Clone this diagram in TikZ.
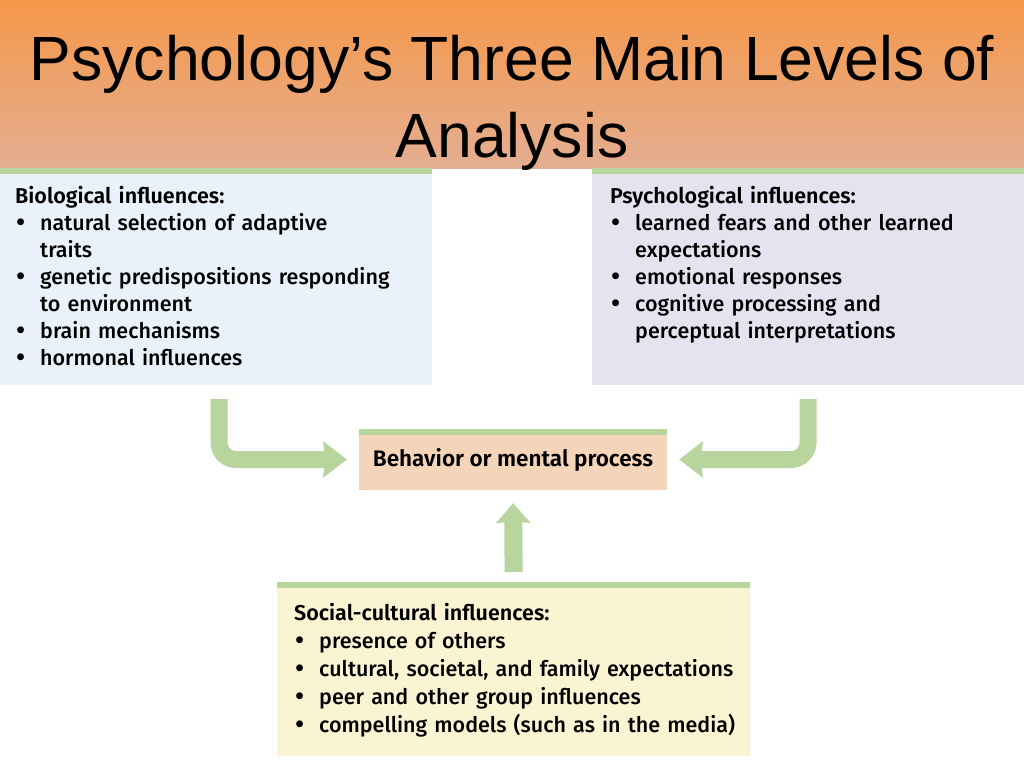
\documentclass[tikz,border=0pt]{standalone}
\usepackage{fontspec}
\usetikzlibrary{positioning,arrows.meta}
\newfontfamily\titlefont{Liberation Sans}
\newfontfamily\boxfont{Fira Sans Medium}
\newfontfamily\headfont{Fira Sans SemiBold}
\definecolor{bandtop}{RGB}{245,152,74}
\definecolor{bandbot}{RGB}{228,174,146}
\definecolor{leafgreen}{RGB}{183,213,156}
\definecolor{biofill}{RGB}{233,242,250}
\definecolor{psyfill}{RGB}{230,227,240}
\definecolor{behfill}{RGB}{245,213,185}
\definecolor{socfill}{RGB}{251,244,211}
\newcommand{\bul}{\par\noindent\hangindent=25pt\hangafter=1\makebox[25pt][l]{\hspace{1pt}\raisebox{-1pt}{\fontsize{27}{27}\selectfont\textbullet}}}
\begin{document}
\begin{tikzpicture}[x=1pt, y=-1pt, box node/.style={rectangle, inner sep=0pt, anchor=north west},
list node/.style={anchor=north west, inner sep=0pt, align=left, text width=#1, font=\boxfont\fontsize{21.5}{27}\selectfont},
flow/.style={line width=17pt, draw=leafgreen, rounded corners=17pt, shorten >=12pt, -{Stealth[length=24pt, width=37pt, inset=3pt, line width=0pt]}},
upflow/.style={line width=18pt, draw=leafgreen, shorten <=10pt, shorten >=13pt, -{Stealth[length=20pt, width=35pt, inset=2pt, line width=0pt]}}]
\useasboundingbox (0,0) rectangle (1024,768);
\fill[white] (0,0) rectangle (1024,768);
\shade[top color=bandtop, bottom color=bandbot] (0,0) rectangle (1024,168);
\node[font=\titlefont\fontsize{62.5}{77}\selectfont, align=center, inner sep=0pt, anchor=north] (title) at (512,35) {Psychology’s Three Main Levels of\\Analysis};
\begin{scope}
\node[box node, fill=biofill, minimum width=432pt, minimum height=217pt] (bio) at (0,168) {};
\node[box node, fill=psyfill, minimum width=432pt, minimum height=217pt] (psy) at (592,168) {};
\node[box node, fill=socfill, minimum width=473pt, minimum height=174pt] (soc) at (277,582) {};
\node[box node, fill=behfill, minimum width=308pt, minimum height=61pt, anchor=center, font=\headfont\fontsize{22.5}{25}\selectfont] (beh) at (513,459.5) {Behavior or mental process};
\foreach \b in {bio,psy,soc,beh}
  \fill[leafgreen] (\b.north west) rectangle ([yshift=-6pt]\b.north east);
\end{scope}
\begin{scope}
\node[list node=410pt, below right=18pt and 15pt of bio.north west] (biotext) {\noindent{\headfont Biological influences:}
\bul natural selection of adaptive\newline traits
\bul genetic predispositions responding\newline to environment
\bul brain mechanisms
\bul hormonal influences\par};
\node[list node=410pt, below right=18pt and 18pt of psy.north west] (psytext) {\noindent{\headfont Psychological influences:}
\bul learned fears and other learned\newline expectations
\bul emotional responses
\bul cognitive processing and\newline perceptual interpretations\par};
\node[list node=460pt, below right=21pt and 17pt of soc.north west, font=\boxfont\fontsize{21.5}{28}\selectfont] (soctext) {\noindent{\headfont Social-cultural influences:}
\bul presence of others
\bul cultural, societal, and family expectations
\bul peer and other group influences
\bul compelling models (such as in the media)\par};
\end{scope}
\begin{scope}
\coordinate (bioa) at (219,399);
\coordinate (psya) at (808,399);
\draw[flow] (bioa) |- (beh.west);
\draw[flow] (psya) |- (beh.east);
\draw[upflow] (soc.north) -- (beh.south);
\end{scope}
\end{tikzpicture}
\end{document}
